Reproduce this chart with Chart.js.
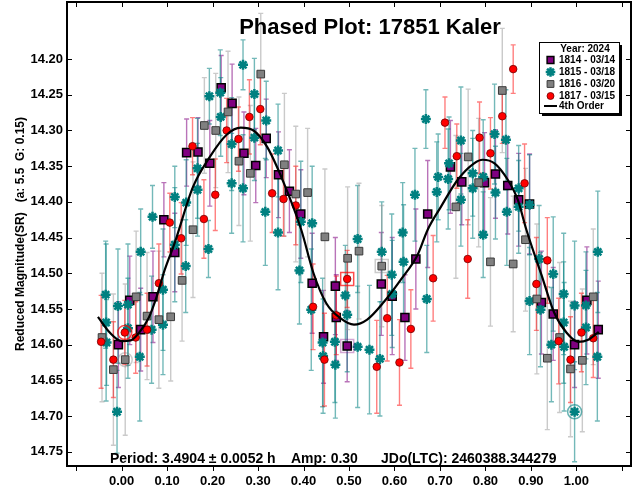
<!DOCTYPE html>
<html>
<head>
<meta charset="utf-8">
<script src="https://cdn.jsdelivr.net/npm/chart.js@4"></script>
<style>
  html, body { margin: 0; padding: 0; background: #fff; }
  #wrap { width: 633px; height: 493px; }
</style>
</head>
<body>
<div id="wrap"><canvas id="myChart"></canvas></div>
<script>
Chart.defaults.font.family = 'Arial, "Liberation Sans", sans-serif';
Chart.defaults.color = '#000';

// session 1814 - 03/14
var phase1814 = [-0.007,0.018,0.042,0.069,0.117,0.093,0.143,0.168,0.194,0.219,0.243,0.269,0.295,0.318,0.345,0.369,0.394,0.419,0.444,0.470,0.472,0.496,0.571,0.595,0.623,0.647,0.673,0.723,0.748,0.798,0.822,0.849,0.873,0.897,0.923,0.949,0.996,1.023,1.048];
var mag1814 = [14.600,14.538,14.579,14.533,14.471,14.425,14.331,14.330,14.346,14.240,14.262,14.332,14.349,14.311,14.362,14.385,14.417,14.514,14.589,14.518,14.562,14.602,14.515,14.532,14.562,14.480,14.417,14.351,14.372,14.373,14.361,14.377,14.397,14.403,14.541,14.557,14.600,14.538,14.579];
var err1814 = [0.060,0.062,0.058,0.064,0.055,0.052,0.047,0.048,0.060,0.045,0.055,0.058,0.052,0.055,0.060,0.058,0.062,0.070,0.065,0.068,0.060,0.050,0.072,0.082,0.060,0.070,0.075,0.065,0.060,0.070,0.062,0.068,0.065,0.070,0.072,0.065,0.060,0.075,0.068];

// session 1815 - 03/18
var phase1815 = [-0.035,-0.034,-0.033,-0.008,-0.010,0.014,0.014,0.040,0.042,0.066,
  0.091,0.091,0.117,0.141,0.191,0.068,0.117,0.142,0.167,0.167,
  0.193,0.217,0.218,0.242,0.242,0.267,0.267,0.292,0.292,0.318,
  0.344,0.316,0.344,0.394,0.419,0.391,0.417,0.442,0.443,0.469,
  0.470,0.492,0.496,0.519,0.519,0.545,0.568,0.572,0.594,0.595,
  0.620,0.618,0.645,0.669,0.671,0.696,0.693,0.720,0.718,0.746,
  0.746,0.772,0.772,0.795,0.795,0.820,0.822,0.845,0.847,0.873,
  0.873,0.897,0.918,0.949,0.972,1.047,0.897,0.921,0.996,0.972,
  0.945,0.973,1.021,1.021,1.046,0.996];
var mag1815 = [14.530,14.569,14.597,14.546,14.694,14.544,14.577,14.617,14.470,14.579,
  14.523,14.572,14.460,14.490,14.466,14.421,14.393,14.401,14.353,14.383,
  14.252,14.247,14.281,14.319,14.374,14.381,14.208,14.249,14.310,14.286,
  14.328,14.414,14.443,14.428,14.430,14.496,14.551,14.597,14.616,14.596,
  14.628,14.531,14.558,14.603,14.452,14.607,14.620,14.470,14.502,14.529,
  14.484,14.443,14.390,14.284,14.536,14.365,14.386,14.346,14.368,14.314,
  14.397,14.360,14.381,14.365,14.446,14.305,14.387,14.313,14.414,14.381,
  14.407,14.404,14.480,14.501,14.529,14.470,14.539,14.551,14.545,14.569,
  14.600,14.603,14.545,14.576,14.617,14.694];
var err1815 = [0.075,0.110,0.060,0.080,0.058,0.085,0.070,0.090,0.060,0.075,
  0.085,0.070,0.080,0.065,0.040,0.044,0.043,0.060,0.070,0.065,
  0.039,0.060,0.055,0.065,0.070,0.075,0.035,0.050,0.060,0.055,
  0.065,0.075,0.080,0.085,0.080,0.075,0.085,0.090,0.080,0.085,
  0.075,0.070,0.080,0.085,0.075,0.090,0.080,0.070,0.085,0.075,
  0.080,0.070,0.065,0.041,0.075,0.060,0.070,0.065,0.070,0.075,
  0.065,0.060,0.070,0.080,0.060,0.070,0.065,0.070,0.075,0.060,
  0.065,0.070,0.075,0.080,0.085,0.085,0.075,0.080,0.090,0.085,
  0.080,0.090,0.075,0.080,0.090,0.070];

// session 1816 - 03/20
var phase1816 = [-0.043,-0.018,0.008,0.032,0.056,0.082,0.108,0.133,0.157,0.182,
  0.207,0.234,0.258,0.283,0.306,0.358,0.383,0.409,0.447,0.497,
  0.522,0.572,0.735,0.762,0.785,0.811,0.837,0.861,0.888,0.913,
  1.037,0.936,0.963,0.987,1.013];
var mag1816 = [14.590,14.635,14.621,14.533,14.560,14.565,14.561,14.510,14.439,14.293,
  14.300,14.274,14.343,14.360,14.221,14.348,14.389,14.387,14.449,14.479,
  14.469,14.490,14.407,14.337,14.373,14.484,14.244,14.487,14.453,14.536,
  14.533,14.619,14.590,14.634,14.622];
var err1816 = [0.090,0.106,0.106,0.092,0.089,0.096,0.090,0.085,0.095,0.067,
  0.080,0.085,0.090,0.095,0.085,0.100,0.095,0.090,0.095,0.100,
  0.095,0.085,0.100,0.095,0.090,0.090,0.087,0.095,0.100,0.105,
  0.095,0.100,0.105,0.095,0.100];

// session 1817 - 03/15
var phase1817 = [-0.045,-0.018,0.007,0.031,0.056,0.082,0.131,0.106,0.156,0.181,
  0.206,0.231,0.257,0.281,0.305,0.331,0.356,0.383,0.421,0.446,
  0.472,0.496,0.561,0.584,0.611,0.636,0.685,0.711,0.737,0.761,
  0.787,0.811,0.837,0.861,0.886,0.912,0.936,0.961,0.987,1.011,1.037];
var mag1817 = [14.596,14.621,14.583,14.590,14.579,14.514,14.451,14.429,14.322,14.424,
  14.390,14.300,14.312,14.281,14.270,14.388,14.396,14.405,14.547,14.621,
  14.559,14.508,14.631,14.563,14.625,14.578,14.507,14.289,14.336,14.480,
  14.310,14.332,14.280,14.214,14.374,14.515,14.482,14.595,14.621,14.583,14.591];
var err1817 = [0.065,0.053,0.045,0.050,0.051,0.055,0.050,0.041,0.040,0.055,
  0.050,0.045,0.045,0.052,0.050,0.055,0.052,0.055,0.060,0.065,
  0.055,0.040,0.065,0.060,0.060,0.055,0.060,0.036,0.045,0.055,
  0.050,0.050,0.038,0.034,0.055,0.065,0.060,0.060,0.060,0.055,0.055];

// 4th order fit
var fitPhase = [-0.052,-0.026,0.000,0.020,0.040,0.060,0.077,0.095,0.117,0.157,0.194,0.231,0.262,0.290,0.320,0.357,0.395,0.422,0.450,0.481,0.511,0.540,0.577,0.614,0.651,0.673,0.702,0.739,0.775,0.794,0.820,0.849,0.871,0.890,0.923,0.951,0.978,1.004,1.026,1.049];
var fitMag = [14.561,14.583,14.595,14.594,14.582,14.562,14.533,14.495,14.457,14.379,14.337,14.306,14.296,14.300,14.323,14.374,14.439,14.500,14.542,14.563,14.572,14.565,14.540,14.509,14.474,14.439,14.407,14.369,14.346,14.341,14.346,14.369,14.397,14.439,14.502,14.555,14.583,14.596,14.593,14.582];

var xTicks = [-0.1,0,0.1,0.2,0.3,0.4,0.5,0.6,0.7,0.8,0.9,1.0,1.1];
var yTicks = [14.20,14.25,14.30,14.35,14.40,14.45,14.50,14.55,14.60,14.65,14.70,14.75];

// highlighted (ringed) points: [session, index, shape]
var ringed = [['1814', 21, 'rect'], ['1815', 85, 'circle'], ['1816', 2, 'circle'], ['1816', 21, 'rect'], ['1817', 2, 'circle'], ['1817', 21, 'rect']];

function pts(px, py) {
    return px.map(function (p, i) { return {x: p, y: py[i]}; });
}

var sessions = {
    '1814': {label: '1814 - 03/14', style: 'rect', radius: 5.7, fill: '#800080', edge: '#000', edgeW: 1.5, bar: 'rgba(128,0,128,0.55)', ring: 'rgba(128,0,128,0.35)'},
    '1815': {label: '1815 - 03/18', style: 'star', radius: 5, fill: '#008080', edge: '#008080', edgeW: 2.5, bar: 'rgba(0,128,128,0.55)', ring: 'rgba(0,128,128,0.6)'},
    '1816': {label: '1816 - 03/20', style: 'rect', radius: 5.4, fill: '#808080', edge: '#3a3a3a', edgeW: 1, bar: 'rgba(150,150,150,0.5)', ring: 'rgba(128,128,128,0.4)'},
    '1817': {label: '1817 - 03/15', style: 'circle', radius: 3.8, fill: '#ff0000', edge: '#700000', edgeW: 0.8, bar: 'rgba(255,0,0,0.5)', ring: 'rgba(255,0,0,0.7)'}
};

function sessionSet(key, px, py, errs) {
    var s = sessions[key];
    return {
        type: 'scatter', key: key, label: s.label,
        data: pts(px, py), errs: errs, barColor: s.bar,
        pointStyle: s.style, pointRadius: s.radius,
        backgroundColor: s.fill, borderColor: s.edge, pointBorderWidth: s.edgeW
    };
}

var errorBars = {
    id: 'errorBars',
    beforeDatasetsDraw: function (chart) {
        var ctx = chart.ctx, a = chart.chartArea, xs = chart.scales.x, ys = chart.scales.y;
        ctx.save();
        ctx.beginPath();
        ctx.rect(a.left, a.top, a.right - a.left, a.bottom - a.top);
        ctx.clip();
        ctx.lineWidth = 1.4;
        for (var d = chart.data.datasets.length - 1; d >= 0; d--) {
            var ds = chart.data.datasets[d];
            if (!ds.errs) continue;
            ctx.strokeStyle = ds.barColor;
            ds.data.forEach(function (pt, i) {
                var px = xs.getPixelForValue(pt.x);
                var y1 = ys.getPixelForValue(pt.y - ds.errs[i]);
                var y2 = ys.getPixelForValue(pt.y + ds.errs[i]);
                ctx.beginPath();
                ctx.moveTo(px, y1); ctx.lineTo(px, y2);
                ctx.moveTo(px - 2.5, y1); ctx.lineTo(px + 2.5, y1);
                ctx.moveTo(px - 2.5, y2); ctx.lineTo(px + 2.5, y2);
                ctx.stroke();
            });
        }
        ctx.restore();
    },
    afterDatasetsDraw: function (chart) {
        var ctx = chart.ctx, xs = chart.scales.x, ys = chart.scales.y;
        ctx.save();
        ringed.forEach(function (r) {
            var ds = chart.data.datasets.find(function (d) { return d.key === r[0]; });
            var pt = ds.data[r[1]];
            var px = xs.getPixelForValue(pt.x), py = ys.getPixelForValue(pt.y);
            ctx.strokeStyle = sessions[r[0]].ring;
            ctx.lineWidth = 1.5;
            ctx.beginPath();
            if (r[2] === 'rect') ctx.rect(px - 6.5, py - 6.5, 13, 13);
            else ctx.arc(px, py, 7, 0, Math.PI * 2);
            ctx.stroke();
        });
        ctx.restore();
    }
};

var frameAndText = {
    id: 'frameAndText',
    afterDraw: function (chart) {
        var ctx = chart.ctx, a = chart.chartArea, xs = chart.scales.x, ys = chart.scales.y;
        ctx.save();
        ctx.strokeStyle = '#000';
        ctx.lineWidth = 1;
        ctx.beginPath();
        yTicks.forEach(function (v) {
            var py = Math.round(ys.getPixelForValue(v)) + 0.5;
            ctx.moveTo(a.left, py); ctx.lineTo(a.left + 5, py);
            ctx.moveTo(a.right - 5, py); ctx.lineTo(a.right, py);
        });
        xTicks.forEach(function (v) {
            var px = Math.round(xs.getPixelForValue(v)) + 0.5;
            ctx.moveTo(px, a.top); ctx.lineTo(px, a.top + 5);
            ctx.moveTo(px, a.bottom); ctx.lineTo(px, a.bottom + 5);
        });
        ctx.stroke();
        ctx.lineWidth = 2;
        ctx.strokeRect(a.left, a.top, a.right - a.left, a.bottom - a.top);

        // title inside the frame
        ctx.fillStyle = '#000';
        ctx.font = 'bold 22px Arial, "Liberation Sans", sans-serif';
        ctx.textAlign = 'center';
        ctx.textBaseline = 'middle';
        ctx.fillText('Phased Plot: 17851 Kaler', 370, 28);

        // fit info line
        ctx.font = 'bold 14px Arial, "Liberation Sans", sans-serif';
        ctx.textAlign = 'left';
        ctx.fillText('Period: 3.4904 \u00b1 0.0052 h', 110, 459);
        ctx.fillText('Amp: 0.30', 291, 459);
        ctx.fillText('JDo(LTC): 2460388.344279', 381, 459);

        // legend box
        var bx = 539, by = 42, bw = 80, bh = 71;
        ctx.fillStyle = '#000';
        ctx.fillRect(bx + 3, by + 3, bw, bh);
        ctx.fillStyle = '#fff';
        ctx.fillRect(bx, by, bw, bh);
        ctx.lineWidth = 1;
        ctx.strokeRect(bx + 0.5, by + 0.5, bw, bh);
        ctx.fillStyle = '#000';
        ctx.font = 'bold 10px Arial, "Liberation Sans", sans-serif';
        ctx.textAlign = 'center';
        ctx.fillText('Year: 2024', 585, 49);
        ctx.textAlign = 'left';
        var rows = ['1814', '1815', '1816', '1817'];
        rows.forEach(function (k, i) {
            var s = sessions[k], ry = 60 + i * 12;
            ctx.fillStyle = s.fill;
            ctx.strokeStyle = s.edge;
            ctx.lineWidth = s.edgeW;
            Chart.helpers.drawPoint(ctx, {pointStyle: s.style, radius: s.style === 'circle' ? 3.5 : 4.8, borderWidth: s.edgeW}, 550.5, ry);
            ctx.fillStyle = '#000';
            ctx.fillText(s.label, 559, ry + 0.5);
        });
        ctx.strokeStyle = '#000';
        ctx.lineWidth = 2;
        ctx.beginPath();
        ctx.moveTo(544, 106); ctx.lineTo(557, 106);
        ctx.stroke();
        ctx.fillText('4th Order', 559, 106.5);
        ctx.restore();
    }
};

var ctx = document.getElementById('myChart');
var myChart = new Chart(ctx, {
    type: 'scatter',
    data: {
        datasets: [
            {
                type: 'line', label: '4th Order',
                data: pts(fitPhase, fitMag),
                borderColor: '#000', borderWidth: 2.2,
                pointRadius: 0, fill: false,
                cubicInterpolationMode: 'monotone'
            },
            sessionSet('1817', phase1817, mag1817, err1817),
            sessionSet('1816', phase1816, mag1816, err1816),
            sessionSet('1815', phase1815, mag1815, err1815),
            sessionSet('1814', phase1814, mag1814, err1814)
        ]
    },
    plugins: [errorBars, frameAndText],
    options: {
        responsive: true,
        maintainAspectRatio: false,
        animation: false,
        layout: {autoPadding: false, padding: {top: 2, right: 2, left: 0, bottom: 0}},
        plugins: {
            legend: {display: false},
            tooltip: {enabled: false}
        },
        scales: {
            x: {
                type: 'linear',
                min: -0.12, max: 1.12,
                afterBuildTicks: function (scale) {
                    scale.ticks = xTicks.map(function (v) { return {value: v}; });
                },
                afterFit: function (scale) {
                    scale.height = 27;
                    scale.paddingLeft = 0;
                    scale.paddingRight = 0;
                },
                grid: {display: false, drawTicks: false},
                border: {display: false},
                ticks: {
                    padding: 8,
                    font: {size: 13, weight: 'bold'},
                    color: '#000',
                    autoSkip: false,
                    maxRotation: 0,
                    callback: function (v) { return (v < -0.001 || v > 1.001) ? '' : v.toFixed(2); }
                }
            },
            y: {
                reverse: true,
                min: 14.12, max: 14.77,
                afterBuildTicks: function (scale) {
                    scale.ticks = yTicks.map(function (v) { return {value: v}; });
                },
                afterFit: function (scale) {
                    scale.width = 67;
                    scale.paddingTop = 0;
                    scale.paddingBottom = 0;
                },
                grid: {display: false, drawTicks: false},
                border: {display: false},
                title: {
                    display: true,
                    text: 'Reduced Magnitude(SR)   (a: 5.5  G: 0.15)',
                    font: {size: 12, weight: 'bold'},
                    color: '#000',
                    padding: {top: 13, bottom: 0}
                },
                ticks: {
                    padding: 4,
                    font: {size: 13, weight: 'bold'},
                    color: '#000',
                    autoSkip: false,
                    callback: function (v) { return v.toFixed(2); }
                }
            }
        }
    }
});
</script>
</body>
</html>
